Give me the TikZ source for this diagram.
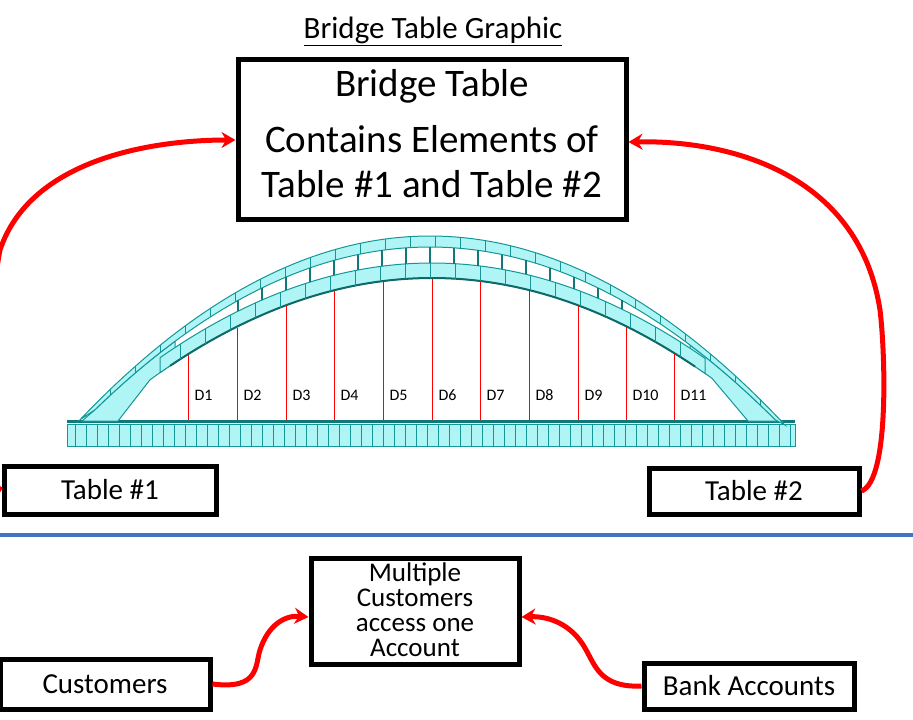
\documentclass[tikz,border=0pt]{standalone}
\usepackage{fontspec}
\setmainfont{Carlito}
\usetikzlibrary{arrows.meta}
\definecolor{teal1}{RGB}{20,150,150}
\definecolor{cyanf}{RGB}{175,245,245}
\definecolor{blu}{RGB}{68,114,196}
\begin{document}
\begin{tikzpicture}[x=1pt,y=-1pt,
 box/.style={draw=black,line width=5pt,fill=white,inner sep=0pt},
 con/.style={draw=red,line width=5pt,-{Stealth[length=14pt,width=16pt]}},
 dl/.style={font=\fontsize{16}{16}\selectfont},
 rl/.style={red,line width=1pt},
 declare function={ua(\x)=236+15*((\x-430)/100)^2; ub(\x)=247+14.5*((\x-430)/100)^2;
   la(\x)=263+12.8*((\x-432)/100)^2; lb(\x)=278+12.8*((\x-432)/100)^2;}]
\useasboundingbox (0,0) rectangle (913,720);
\clip (0,0) rectangle (913,720);
\node[font=\fontsize{31}{31}\selectfont] (title) at (433,31) {\underline{Bridge Table Graphic}};
% bridge deck
\fill[cyanf,draw=teal1,line width=1pt] (67,424) rectangle (795,446);
\foreach \x in {75,86,...,795} \draw[teal1,line width=0.6pt] (\x,424) -- (\x,446);
\draw[teal1!80!black,line width=3pt] (67,421) -- (795,421);
% end wedges
\fill[cyanf,draw=teal1,line width=1pt] (82,421) -- plot[domain=95:175,samples=20] (\x,{ub(\x)}) -- plot[domain=175:150,samples=10] (\x,{lb(\x)}) -- (118,421) -- cycle;
\fill[cyanf,draw=teal1,line width=1pt] (782,421) -- plot[domain=768:690,samples=20] (\x,{ub(\x)}) -- plot[domain=690:712,samples=10] (\x,{lb(\x)}) -- (748,421) -- cycle;
% upper arch
\fill[cyanf,draw=teal1,line width=1pt] plot[domain=80:785,samples=80] (\x,{ua(\x)}) -- plot[domain=775:95,samples=80] (\x,{ub(\x)}) -- cycle;
\foreach \x in {110,135,...,760} \draw[teal1,line width=0.6pt] (\x,{ua(\x)}) -- (\x,{ub(\x)});
% lower arch
\fill[cyanf,draw=teal1,line width=1pt] plot[domain=160:705,samples=80] (\x,{la(\x)}) -- plot[domain=705:160,samples=80] (\x,{lb(\x)}) -- cycle;
\draw[teal1!70!black,line width=2pt] plot[domain=170:695,samples=80] (\x,{lb(\x)});
\foreach \x in {180,205,...,690} \draw[teal1,line width=0.6pt] (\x,{la(\x)}) -- (\x,{lb(\x)});
% hangers between arches
\foreach \x in {238,262,...,630} \draw[teal1!80!black,line width=2.5pt] (\x,{ub(\x)}) -- (\x,{la(\x)});
% red lines and labels
\foreach \x/\t [count=\i] in {188/D1,237/D2,286/D3,334/D4,383/D5,432/D6,480/D7,529/D8,578/D9,626/D10,674/D11}{
 \draw[rl] (\x,420) -- (\x,{lb(\x)+1});
 \node[dl,anchor=west] (d\i) at (\x+3,395) {\t};
}
% boxes
\node[box,minimum width=388pt,minimum height=160pt] (bt) at (432,139) {};
\node[font=\fontsize{39}{39}\selectfont] (btt) at (432,86) {Bridge Table};
\node[font=\fontsize{39}{45}\selectfont,align=center] (btc) at (432,162) {Contains Elements of\\Table \#1 and Table \#2};
\node[box,minimum width=212pt,minimum height=48pt,font=\fontsize{29}{29}\selectfont] (t1) at (110,490) {Table \#1};
\node[box,minimum width=210pt,minimum height=46pt,font=\fontsize{29}{29}\selectfont] (t2) at (754,491) {Table \#2};
\draw[blu,line width=4pt] (0,535) -- (913,535);
\node[box,minimum width=208pt,minimum height=106pt] (mc) at (415,611) {};
\node[font=\fontsize{27}{25}\selectfont,align=center] (mct) at (415,610) {Multiple\\Customers\\access one\\Account};
\node[box,minimum width=210pt,minimum height=50pt,font=\fontsize{29}{29}\selectfont] (cu) at (105,684) {Customers};
\node[box,minimum width=210pt,minimum height=46pt,font=\fontsize{29}{29}\selectfont] (ba) at (749,686) {Bank Accounts};
% connectors
\draw[con] (t1.west) .. controls (-25,480) and (-10,300) .. (0,250) .. controls (30,160) and (150,140) .. (bt.west|-0,140);
\draw[con] (t2.east) .. controls (890,480) and (885,350) .. (880,310) .. controls (860,180) and (740,140) .. (bt.east|-0,142);
\draw[con] (cu.east) .. controls (260,690) and (255,665) .. (260,650) .. controls (268,625) and (285,615) .. (mc.west|-0,617);
\draw[con] (ba.west) .. controls (600,688) and (595,665) .. (585,648) .. controls (572,625) and (550,616) .. (mc.east|-0,617);
\end{tikzpicture}
\end{document}
